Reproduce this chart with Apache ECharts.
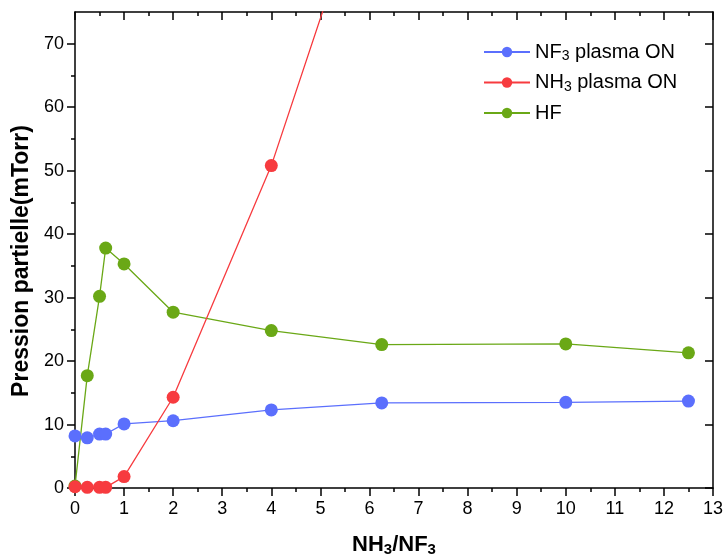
<!DOCTYPE html>
<html><head><meta charset="utf-8">
<script src="https://cdn.jsdelivr.net/npm/echarts@6/dist/echarts.min.js"></script>
<style>html,body{margin:0;padding:0;background:#fff}#c{width:726px;height:557px}</style>
</head><body><div id="c"></div>
<script>
const xValues = [0, 0.25, 0.5, 0.625, 1, 2, 4, 6.25, 10, 12.5];
const nf3Plasma = [8.2, 7.9, 8.5, 8.5, 10.1, 10.6, 12.3, 13.4, 13.5, 13.7];
const nh3Plasma = [0.2, 0.1, 0.1, 0.1, 1.8, 14.3, 50.8, 103];
const hf = [0.3, 17.7, 30.2, 37.8, 35.3, 27.7, 24.8, 22.6, 22.7, 21.3];
const yMajorTicks = [0, 10, 20, 30, 40, 50, 60, 70];
const yMinorTicks = [5, 15, 25, 35, 45, 55, 65];
const seriesNames = ['NF3 plasma ON', 'NH3 plasma ON', 'HF'];
const colors = ['#5b6ffd', '#f73b3f', '#6aa816'];

const font = 'Liberation Sans, Arial, sans-serif';
const pairs = (ys) => ys.map((y, i) => [xValues[i], y]);
const axisLineStyle = {color: '#000', width: 1.5};

function subFormat(name) {
  const m = name.match(/^(\D+)(\d)(.*)$/);
  if (!m) return '{n|' + name + '}';
  return '{n|' + m[1] + '}{s|' + m[2] + '}{n|' + m[3] + '}';
}
const richSub = {
  n: {fontSize: 20, fontFamily: font, color: '#000'},
  s: {fontSize: 14, fontFamily: font, color: '#000', padding: [9, 0, 0, 0]}
};
const richSubBold = {
  n: {fontSize: 22, fontWeight: 'bold', fontFamily: font, color: '#000'},
  s: {fontSize: 15, fontWeight: 'bold', fontFamily: font, color: '#000', padding: [10, 0, 0, 0]}
};

const chart = echarts.init(document.getElementById('c'), null, {renderer: 'canvas'});
const baseX = {type: 'value', min: 0, max: 13, interval: 1, splitLine: {show: false},
  axisLine: {show: true, onZero: false, lineStyle: axisLineStyle}};
chart.setOption({
  animation: false,
  backgroundColor: '#fff',
  grid: {left: 75, right: 13, top: 12, bottom: 69, containLabel: false, outerBoundsMode: 'none'},
  legend: {
    left: 478, top: 37, orient: 'vertical', itemWidth: 46, itemHeight: 13, itemGap: 9,
    data: seriesNames,
    formatter: subFormat,
    textStyle: {rich: richSub, fontSize: 20, fontFamily: font, color: '#000'}
  },
  xAxis: [
    Object.assign({}, baseX, {
      position: 'bottom',
      name: '{n|NH}{s|3}{n|/NF}{s|3}', nameLocation: 'middle', nameGap: 44,
      nameTextStyle: {rich: richSubBold},
      axisTick: {show: true, length: 8, lineStyle: {color: '#000', width: 1.5}},
      minorTick: {show: true, splitNumber: 2, length: 4, lineStyle: {color: '#000', width: 1.5}},
      axisLabel: {fontSize: 18, fontFamily: font, color: '#000', margin: 12}
    }),
    Object.assign({}, baseX, {
      position: 'top',
      axisTick: {show: true, inside: true, length: 8, lineStyle: {color: '#000', width: 1.5}},
      minorTick: {show: true, splitNumber: 2, length: 4, lineStyle: {color: '#000', width: 1.5}},
      axisLabel: {show: false}
    })
  ],
  yAxis: [
    {type: 'value', min: 0, max: 75, position: 'left', splitLine: {show: false},
      name: 'Pression partielle(mTorr)', nameLocation: 'middle', nameGap: 41,
      nameTextStyle: {fontSize: 23, fontWeight: 'bold', fontFamily: font, color: '#000', padding: [0, 22, 0, 0]},
      axisLine: {show: true, onZero: false, lineStyle: axisLineStyle},
      axisTick: {show: true, length: 8, customValues: yMajorTicks, lineStyle: {color: '#000', width: 1.5}},
      axisLabel: {fontSize: 18, fontFamily: font, color: '#000', margin: 11, customValues: yMajorTicks}
    },
    {type: 'value', min: 0, max: 75, position: 'right', splitLine: {show: false},
      axisLine: {show: true, onZero: false, lineStyle: axisLineStyle},
      axisTick: {show: true, inside: true, length: 8, customValues: yMajorTicks, lineStyle: {color: '#000', width: 1.5}},
      axisLabel: {show: false}
    },
    {type: 'value', min: 0, max: 75, position: 'left', splitLine: {show: false},
      axisLine: {show: false},
      axisTick: {show: true, length: 4, customValues: yMinorTicks, lineStyle: {color: '#000', width: 1.5}},
      axisLabel: {show: false}
    },
    {type: 'value', min: 0, max: 75, position: 'right', splitLine: {show: false},
      axisLine: {show: false},
      axisTick: {show: true, inside: true, length: 4, customValues: yMinorTicks, lineStyle: {color: '#000', width: 1.5}},
      axisLabel: {show: false}
    }
  ],
  series: [
    {name: seriesNames[0], type: 'line', data: pairs(nf3Plasma), color: colors[0], symbol: 'circle', symbolSize: 13,
      lineStyle: {width: 1.3}, z: 3},
    {name: seriesNames[1], type: 'line', data: pairs(nh3Plasma), color: colors[1], symbol: 'circle', symbolSize: 13,
      lineStyle: {width: 1.3}, clip: true, z: 4},
    {name: seriesNames[2], type: 'line', data: pairs(hf), color: colors[2], symbol: 'circle', symbolSize: 13,
      lineStyle: {width: 1.3}, z: 2}
  ]
});
</script></body></html>
